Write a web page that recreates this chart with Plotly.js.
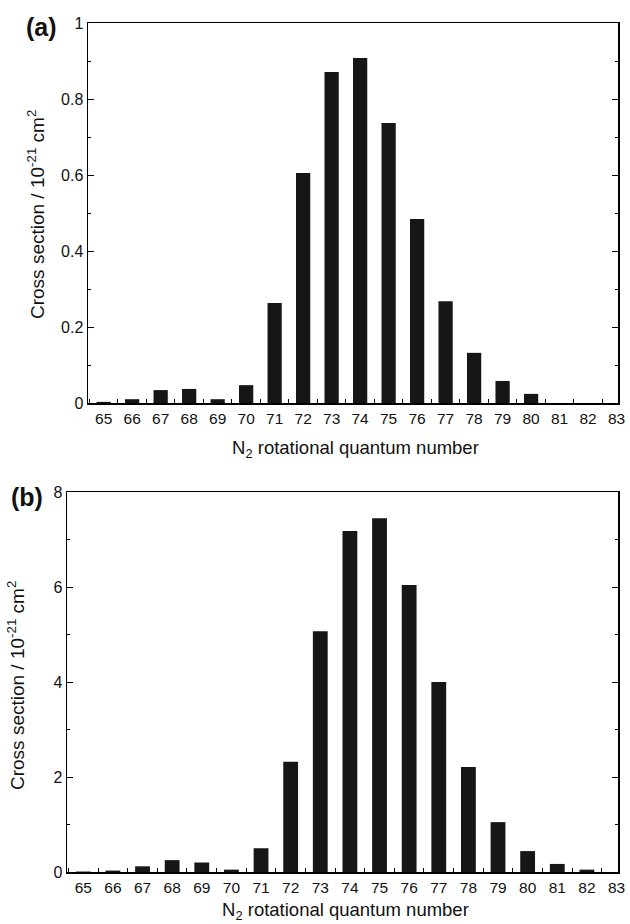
<!DOCTYPE html>
<html>
<head>
<meta charset="utf-8">
<script src="https://cdn.plot.ly/plotly-3.0.1.min.js"></script>
<style>html,body{margin:0;padding:0;background:#fff;}#chart{width:630px;height:924px;}</style>
</head>
<body>
<div id="chart"></div>
<script>
// Data
const levels = [65,66,67,68,69,70,71,72,73,74,75,76,77,78,79,80,81,82,83];
const tickLabels = ["65","66","67","68","69","70","71","72","73","74","75","76","77","78","79","80","81","82","83"];
const crossSectionA = [0.003,0.010,0.034,0.037,0.010,0.047,0.263,0.605,0.871,0.908,0.737,0.484,0.268,0.132,0.058,0.024,0,0,0];
const crossSectionB = [0.01,0.03,0.12,0.25,0.20,0.05,0.50,2.32,5.07,7.18,7.45,6.04,4.00,2.21,1.05,0.44,0.17,0.05,0];
const panelLabels = ["(a)","(b)"];
const yTitle = "Cross section / 10<sup>-21</sup> cm<sup>2</sup>";
const xTitle = "N<sub>2</sub> rotational quantum number";

const W = 630, H = 924;
const FONT = "Liberation Sans, Arial, Helvetica, sans-serif";
const barColor = "#161616";

const traces = [
  {type:"bar", x: levels, y: crossSectionA, xaxis:"x", yaxis:"y", width:0.5,
   marker:{color:barColor, line:{width:0}}, hoverinfo:"x+y"},
  {type:"bar", x: levels, y: crossSectionB, xaxis:"x2", yaxis:"y2", width:0.5,
   marker:{color:barColor, line:{width:0}}, hoverinfo:"x+y"}
];

const xr = [64.45, 83.05];
function bottomX(domain, anchor){
  return {domain:domain, anchor:anchor, range:xr, tickmode:"array", tickvals:levels, ticktext:tickLabels,
    ticks:"", showline:true, linecolor:"#000", linewidth:1.5, mirror:true, showgrid:false, zeroline:false,
    tickfont:{family:FONT, size:15.5, color:"#111"}, ticklabelstandoff:1,
    minor:{ticks:"inside", tick0:64.5, dtick:1, ticklen:4, tickcolor:"#000", tickwidth:1, showgrid:false},
    fixedrange:true};
}
function topX(over, anchor){
  return {overlaying:over, anchor:anchor, side:"top", range:xr, tickmode:"array", tickvals:levels,
    showticklabels:false, ticks:"inside", ticklen:5, tickcolor:"#000", tickwidth:1, showline:false,
    showgrid:false, zeroline:false, fixedrange:true};
}
function yAx(domain, anchor, range, dtick){
  return {domain:domain, anchor:anchor, range:range, dtick:dtick, tick0:0, ticks:"inside", ticklen:6,
    tickcolor:"#000", tickwidth:1, showline:true, linecolor:"#000", linewidth:1.5, mirror:"ticks",
    showgrid:false, zeroline:false, tickfont:{family:FONT, size:16, color:"#111"},
    minor:{ticks:"inside", dtick:dtick/2, ticklen:3, tickcolor:"#000", tickwidth:1, showgrid:false},
    fixedrange:true};
}

const xdA = [88/W, 618/W], xdB = [67/W, 618/W];
const ydA = [(H-403)/H, (H-23)/H], ydB = [(H-872)/H, (H-492)/H];

const layout = {
  width:W, height:H, margin:{l:0,r:0,t:0,b:0}, paper_bgcolor:"#fff", plot_bgcolor:"#fff",
  showlegend:false, bargap:0.5,
  font:{family:FONT, color:"#111"},
  xaxis: bottomX(xdA, "y"),
  xaxis2: bottomX(xdB, "y2"),
  xaxis3: topX("x", "y"),
  xaxis4: topX("x2", "y2"),
  yaxis: yAx(ydA, "x", [0,1], 0.2),
  yaxis2: yAx(ydB, "x2", [0,8], 2),
  annotations:[
    {text:panelLabels[0], xref:"paper", yref:"paper", x:41/W, y:1-27/H, showarrow:false,
     font:{family:FONT, size:25, color:"#111", weight:"bold"}, xanchor:"center", yanchor:"middle"},
    {text:panelLabels[1], xref:"paper", yref:"paper", x:27/W, y:1-497/H, showarrow:false,
     font:{family:FONT, size:25, color:"#111", weight:"bold"}, xanchor:"center", yanchor:"middle"},
    {text:yTitle, xref:"paper", yref:"paper", x:36/W, y:1-215/H, textangle:-90, showarrow:false,
     font:{family:FONT, size:19, color:"#111"}, xanchor:"center", yanchor:"middle"},
    {text:yTitle, xref:"paper", yref:"paper", x:16/W, y:1-686/H, textangle:-90, showarrow:false,
     font:{family:FONT, size:19, color:"#111"}, xanchor:"center", yanchor:"middle"},
    {text:xTitle, xref:"paper", yref:"paper", x:355/W, y:1-449/H, showarrow:false,
     font:{family:FONT, size:18.5, color:"#111"}, xanchor:"center", yanchor:"middle"},
    {text:xTitle, xref:"paper", yref:"paper", x:345/W, y:1-911/H, showarrow:false,
     font:{family:FONT, size:18.5, color:"#111"}, xanchor:"center", yanchor:"middle"}
  ]
};

Plotly.newPlot("chart", traces, layout, {displayModeBar:false, staticPlot:true});
</script>
</body>
</html>
